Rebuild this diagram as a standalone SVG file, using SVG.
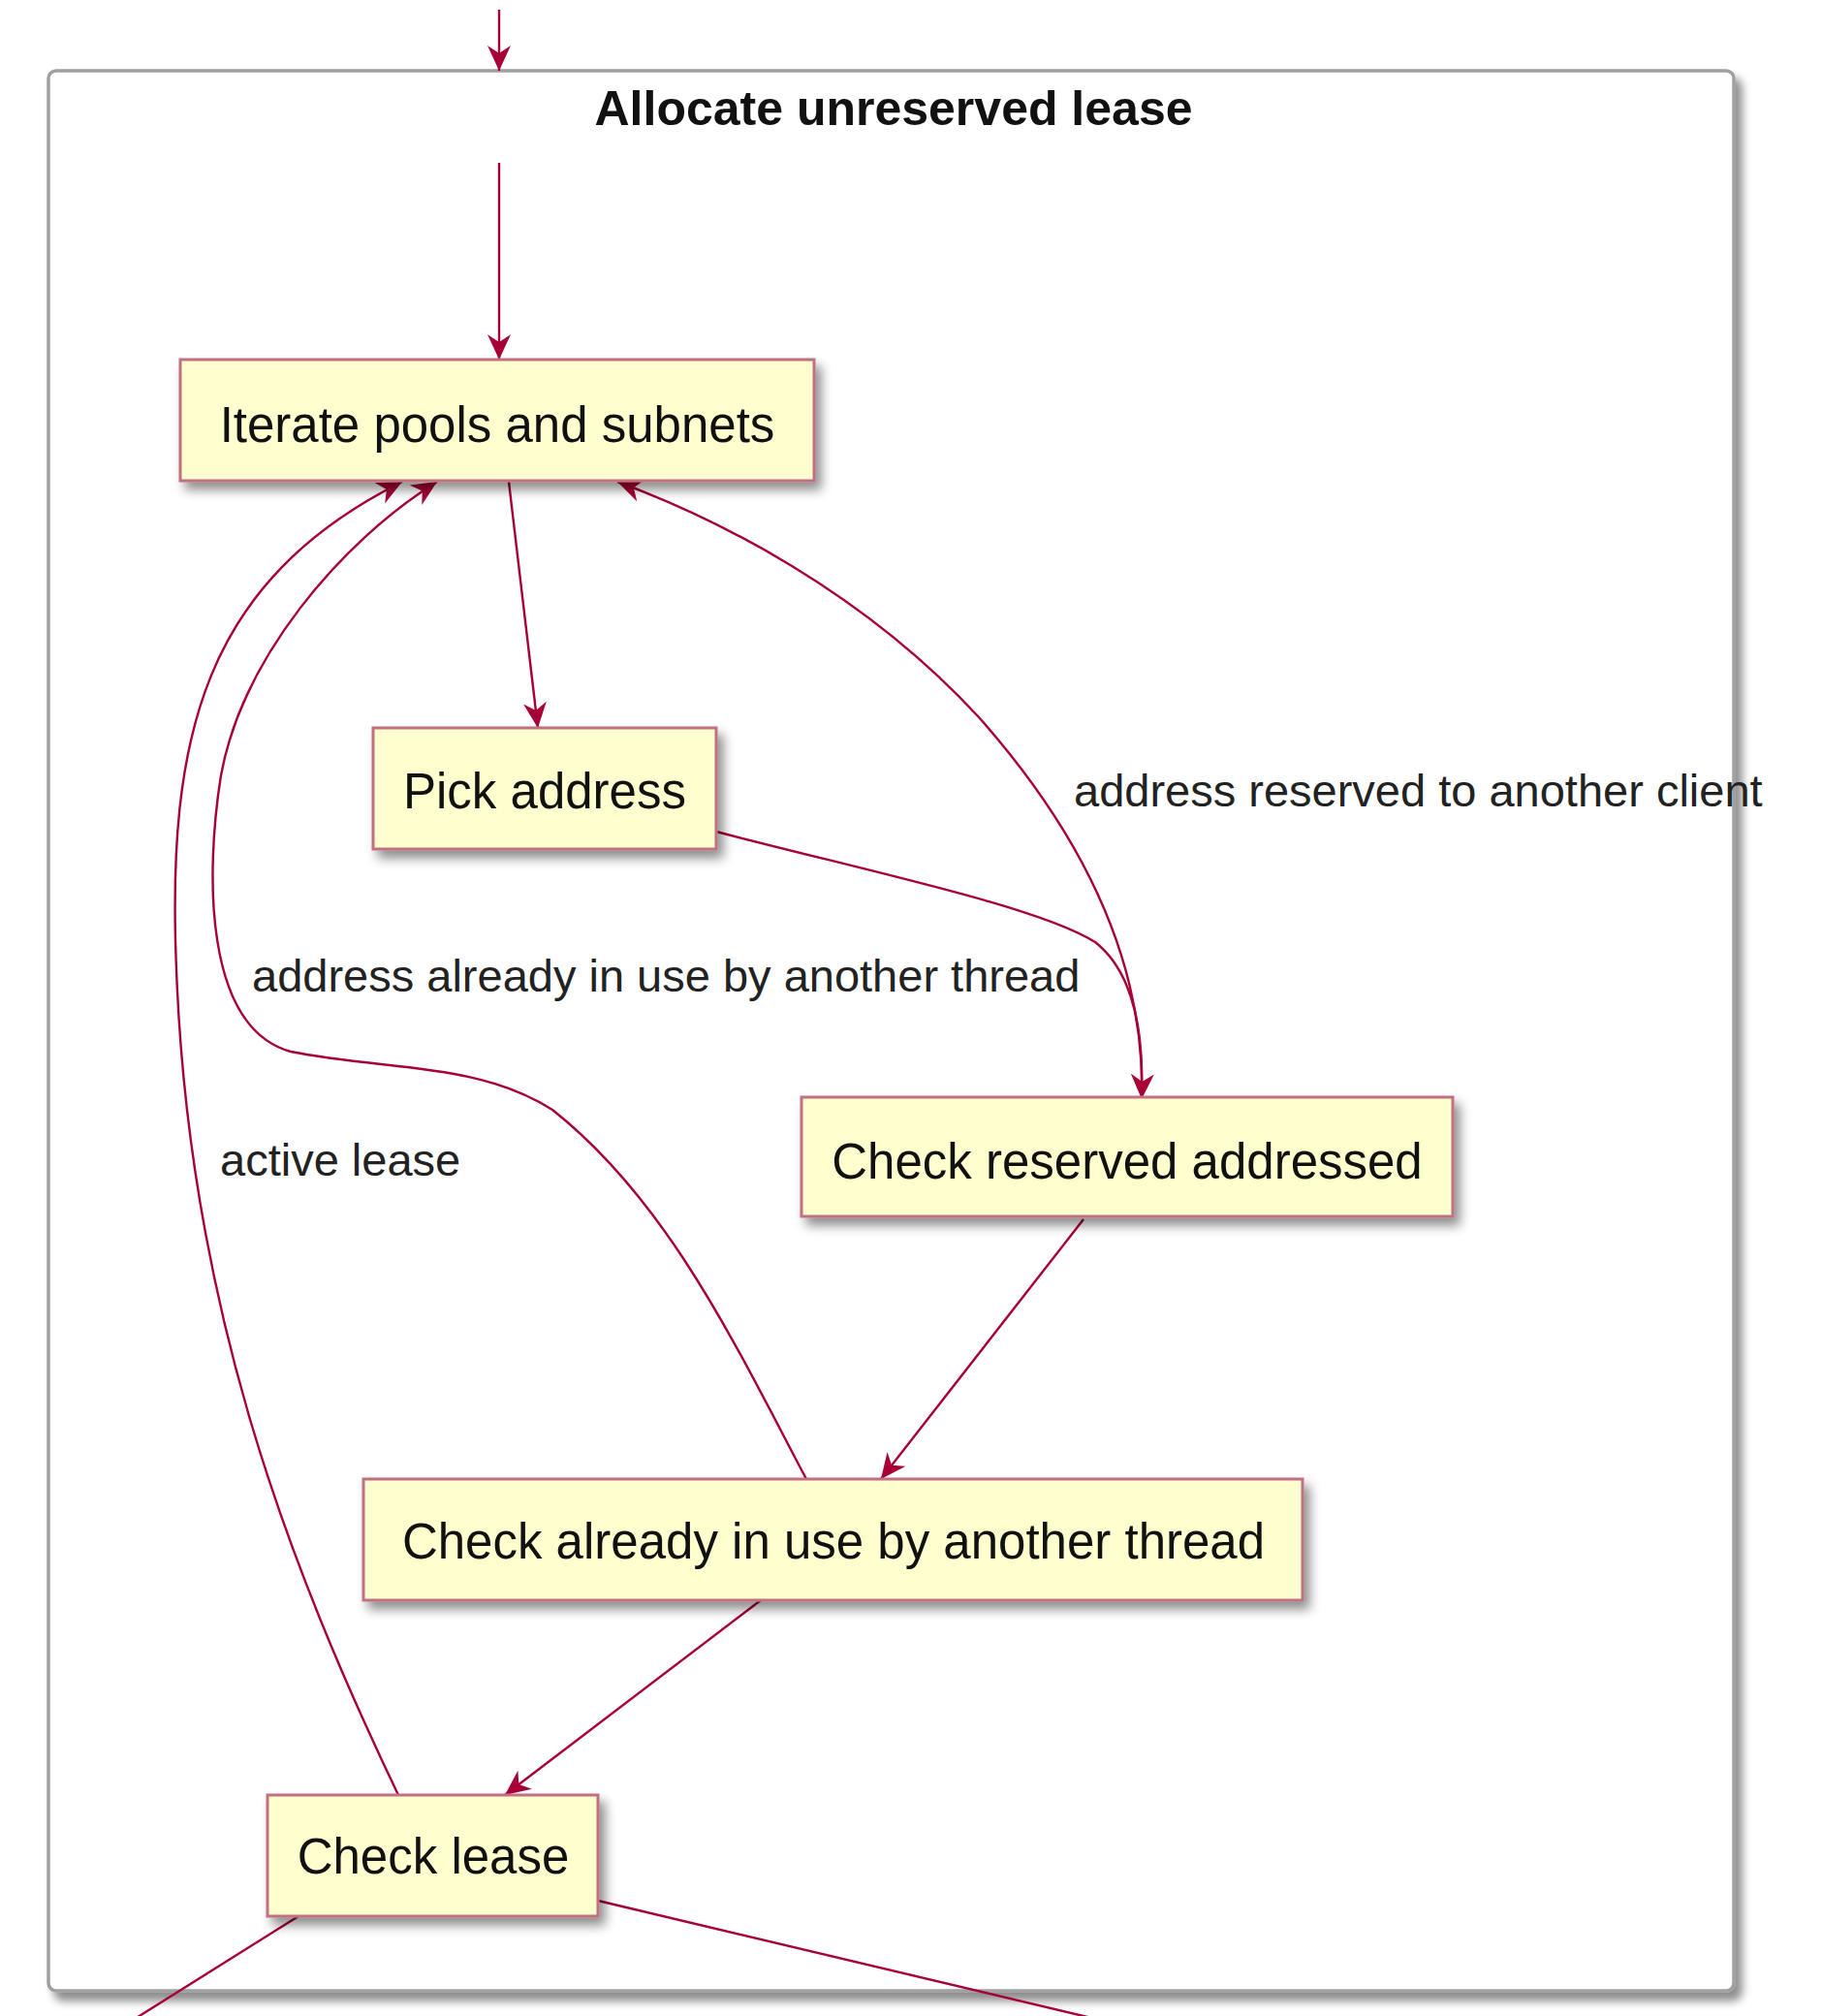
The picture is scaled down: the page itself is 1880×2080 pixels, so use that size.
<svg xmlns="http://www.w3.org/2000/svg" width="1880" height="2080" viewBox="0 0 1880 2080">
<defs>
<filter id="sh" x="-10%" y="-10%" width="130%" height="140%">
<feGaussianBlur in="SourceAlpha" stdDeviation="6"/>
<feOffset dx="6" dy="8" result="b"/>
<feComponentTransfer><feFuncA type="linear" slope="0.45"/></feComponentTransfer>
<feMerge><feMergeNode/><feMergeNode in="SourceGraphic"/></feMerge>
</filter>
<filter id="fsh" x="-5%" y="-5%" width="110%" height="110%">
<feGaussianBlur in="SourceAlpha" stdDeviation="5"/>
<feOffset dx="7" dy="9"/>
<feComponentTransfer><feFuncA type="linear" slope="0.45"/></feComponentTransfer>
<feMerge><feMergeNode/><feMergeNode in="SourceGraphic"/></feMerge>
</filter>
<marker id="ah" markerUnits="userSpaceOnUse" markerWidth="34" markerHeight="28" refX="26" refY="12" orient="auto">
<path d="M0,0 L26,12 L0,24 L8,12 Z" fill="#A80036"/>
</marker>
<style>
.node rect{fill:#FEFECE;stroke:#C07080;stroke-width:3;filter:url(#sh)}
.node text{font-family:"Liberation Sans",Arial,sans-serif;font-size:51px;fill:#111;text-anchor:middle}
.lbl{font-family:"Liberation Sans",Arial,sans-serif;font-size:47px;fill:#222}
.e{fill:none;stroke:#A80036;stroke-width:2.4}
.ea{fill:none;stroke:#A80036;stroke-width:2.4;marker-end:url(#ah)}
</style>
</defs>
<rect width="1880" height="2080" fill="#ffffff"/>
<g id="frame">
<rect x="50" y="73" width="1739" height="1981" rx="8" fill="#ffffff" stroke="#a0a0a0" stroke-width="3.5" filter="url(#fsh)"/>
<text x="922" y="129" font-family="'Liberation Sans',Arial,sans-serif" font-size="50" font-weight="bold" text-anchor="middle" fill="#111">Allocate unreserved lease</text>
</g>
<g id="connectors">
<path class="ea" d="M515,10 L515,73"/>
<path class="ea" d="M515,168 L515,371"/>
<path class="ea" d="M525,497 L555,751"/>
<path class="ea" d="M739,858 C900,900 1070,935 1130,972 C1172,1005 1180,1070 1178,1134"/>
<path class="ea" d="M1178,1134 C1182,1000 1125,870 1010,740 C890,610 740,535 637,497"/>
<path class="ea" d="M1118,1258 L909,1526"/>
<path class="ea" d="M832,1526 C760,1390 690,1240 570,1145 C490,1095 400,1105 300,1085 C210,1060 212,900 228,800 C250,680 350,560 451,497"/>
<path class="ea" d="M785,1651 L521,1852"/>
<path class="ea" d="M411,1852 C300,1620 195,1350 182,1000 C172,760 210,600 415,497"/>
<path class="e" d="M308,1977 L80,2120"/>
<path class="e" d="M617,1961 L1160,2090"/>
<text class="lbl" x="1108" y="832">address reserved to another client</text>
<text class="lbl" x="260" y="1023">address already in use by another thread</text>
<text class="lbl" x="227" y="1213">active lease</text>
</g>
<g id="n1" class="node"><rect x="186" y="371" width="654" height="125"/><text x="513" y="456">Iterate pools and subnets</text></g>
<g id="n2" class="node"><rect x="385" y="751" width="354" height="125"/><text x="562" y="834">Pick address</text></g>
<g id="n3" class="node"><rect x="827" y="1132" width="672" height="123"/><text x="1163" y="1216">Check reserved addressed</text></g>
<g id="n4" class="node"><rect x="375" y="1526" width="969" height="125"/><text x="860" y="1608">Check already in use by another thread</text></g>
<g id="n5" class="node"><rect x="276" y="1852" width="341" height="125"/><text x="447" y="1933">Check lease</text></g>
</svg>
